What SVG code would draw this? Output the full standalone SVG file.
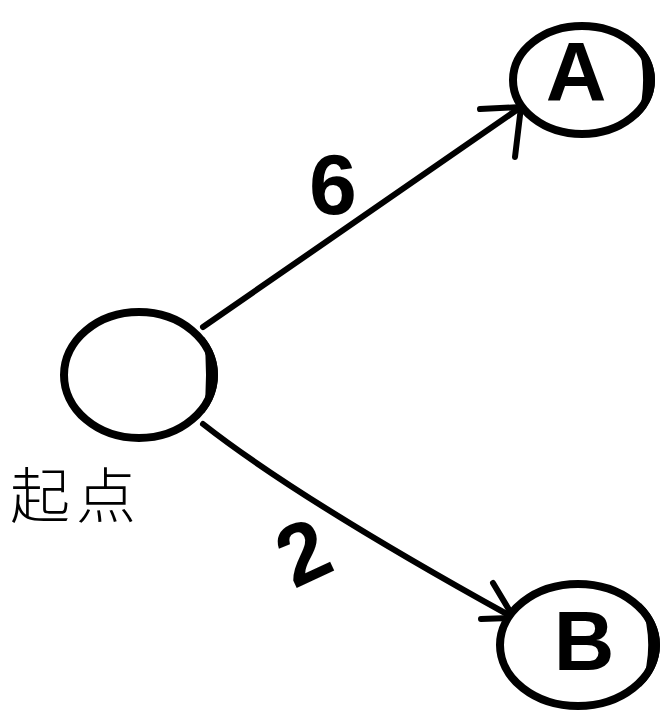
<svg xmlns="http://www.w3.org/2000/svg" width="663" height="711" viewBox="0 0 663 711">
<style>
.node{fill:#fff;stroke:#000;stroke-width:8}
.heavy{fill:#000;stroke:none}
.edge{fill:none;stroke:#000;stroke-width:6;stroke-linecap:round;stroke-linejoin:round}
.lbl{font-family:"Liberation Sans",Arial,sans-serif;font-weight:bold;fill:#000;text-anchor:middle}
.cjk{font-family:"Noto Sans CJK SC","Noto Sans CJK JP",sans-serif;font-weight:300;fill:#000}
</style>
<rect width="663" height="711" fill="#fff"/>
<g id="edges">
<path class="edge" d="M203 327 Q365 215 521 107"/>
<path class="edge" d="M480 109 L521 107 L515 157"/>
<path class="edge" d="M203 424 Q300 500 514 618"/>
<path class="edge" d="M493 583 L514 618 L481 619"/>
</g>
<g id="start">
<ellipse class="node" cx="139" cy="375" rx="75" ry="63"/>
<path class="heavy" d="M203.7 336.6 A79 67 0 0 1 203.7 413.4 A321 321 0 0 0 203.7 336.6 Z"/>
<text class="cjk" x="10" y="518" font-size="60" letter-spacing="6">起点</text>
</g>
<g id="A">
<ellipse class="node" cx="582" cy="80" rx="69" ry="54"/>
<path class="heavy" d="M637.9 42.7 A73 58 0 0 1 637.9 117.3 A139 139 0 0 0 637.9 42.7 Z"/>
<text class="lbl" x="576" y="101" font-size="84">A</text>
</g>
<g id="B">
<ellipse class="node" cx="578" cy="645" rx="78" ry="61"/>
<path class="heavy" d="M640.8 603.2 A82 65 0 0 1 640.8 686.8 A125 125 0 0 0 640.8 603.2 Z"/>
<text class="lbl" x="584" y="670" font-size="84">B</text>
</g>
<g id="labels">
<text class="lbl" x="333" y="214" font-size="86">6</text>
<text class="lbl" x="303" y="582" font-size="86" transform="rotate(-25 303 552)">2</text>
</g>
</svg>
